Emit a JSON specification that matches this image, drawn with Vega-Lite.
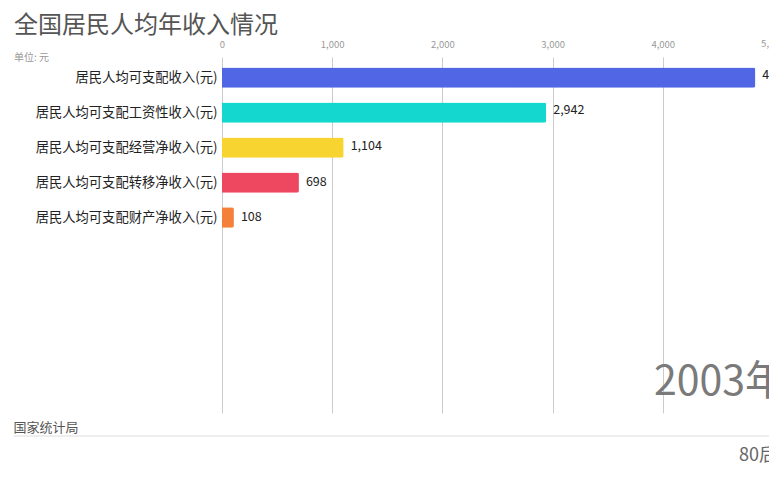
{
  "$schema": "https://vega.github.io/schema/vega-lite/v6.json",
  "autosize": {"type": "none"},
  "width": 547,
  "height": 356,
  "padding": {"left": 222, "top": 57, "right": 0, "bottom": 67},
  "background": "white",
  "title": {
    "text": "全国居民人均年收入情况",
    "subtitle": "单位: 元",
    "anchor": "start",
    "frame": "group",
    "dx": -208,
    "offset": -24,
    "font": "Noto Sans CJK SC",
    "fontSize": 24,
    "fontWeight": "normal",
    "color": "#555555",
    "subtitleFont": "Noto Sans CJK SC",
    "subtitleFontSize": 10,
    "subtitleColor": "#999999",
    "subtitlePadding": 15
  },
  "config": {
    "view": {"stroke": null},
    "font": "Noto Sans CJK SC"
  },
  "data": {
    "values": [
      {"item": "居民人均可支配收入(元)", "value": 4840},
      {"item": "居民人均可支配工资性收入(元)", "value": 2942},
      {"item": "居民人均可支配经营净收入(元)", "value": 1104},
      {"item": "居民人均可支配转移净收入(元)", "value": 698},
      {"item": "居民人均可支配财产净收入(元)", "value": 108}
    ]
  },
  "layer": [
    {
      "mark": {"type": "bar", "cornerRadiusEnd": 2},
      "encoding": {
        "y": {
          "field": "item",
          "type": "nominal",
          "scale": {
            "domain": ["居民人均可支配收入(元)", "居民人均可支配工资性收入(元)", "居民人均可支配经营净收入(元)", "居民人均可支配转移净收入(元)", "居民人均可支配财产净收入(元)", "_6", "_7", "_8", "_9", "_10"],
            "paddingInner": 0.42,
            "paddingOuter": 0.3
          },
          "axis": {
            "title": null,
            "domain": false,
            "ticks": false,
            "labelExpr": "indexof(datum.value, '_') == 0 ? '' : datum.value",
            "labelFontSize": 13.3,
            "labelColor": "#222222",
            "labelPadding": 5,
            "labelLimit": 300
          }
        },
        "x": {
          "field": "value",
          "type": "quantitative",
          "scale": {"domain": [0, 4964], "nice": false, "zero": true},
          "axis": {
            "orient": "top",
            "title": null,
            "values": [0, 1000, 2000, 3000, 4000],
            "labelExpr": "format(datum.value, ',')",
            "domain": false,
            "ticks": false,
            "labelFlush": false,
            "labelBound": false,
            "labelOverlap": false,
            "labelFontSize": 9.5,
            "labelColor": "#999999",
            "labelPadding": 8,
            "grid": true,
            "gridColor": "#cccccc",
            "gridWidth": 1
          }
        },
        "color": {
          "field": "item",
          "type": "nominal",
          "scale": {
            "domain": ["居民人均可支配收入(元)", "居民人均可支配工资性收入(元)", "居民人均可支配经营净收入(元)", "居民人均可支配转移净收入(元)", "居民人均可支配财产净收入(元)"],
            "range": ["#5166E4", "#14D8CF", "#F8D431", "#EE4760", "#F5803A"]
          },
          "legend": null
        }
      }
    },
    {
      "mark": {"type": "text", "align": "left", "baseline": "middle", "dx": 7, "fontSize": 12.5, "color": "#222222"},
      "encoding": {
        "y": {
          "field": "item",
          "type": "nominal",
          "scale": {
            "domain": ["居民人均可支配收入(元)", "居民人均可支配工资性收入(元)", "居民人均可支配经营净收入(元)", "居民人均可支配转移净收入(元)", "居民人均可支配财产净收入(元)", "_6", "_7", "_8", "_9", "_10"],
            "paddingInner": 0.42,
            "paddingOuter": 0.3
          },
          "axis": null
        },
        "x": {"field": "value", "type": "quantitative", "scale": {"domain": [0, 4964], "nice": false, "zero": true}},
        "text": {"field": "value", "type": "quantitative", "format": ","}
      }
    },
    {
      "data": {"values": [{"label": "5,000", "tick": 5000}]},
      "mark": {"type": "text", "align": "center", "baseline": "middle", "fontSize": 9.5, "color": "#999999"},
      "encoding": {
        "x": {"field": "tick", "type": "quantitative", "scale": {"domain": [0, 4964], "nice": false, "zero": true}},
        "y": {"datum": 369, "type": "quantitative", "scale": {"domain": [0, 356], "nice": false, "zero": true}, "axis": null},
        "text": {"field": "label"}
      }
    },
    {
      "data": {"values": [{"label": "2003年"}]},
      "mark": {"type": "text", "align": "left", "baseline": "alphabetic", "fontSize": 41, "color": "#7a7a7a"},
      "encoding": {
        "x": {"datum": 3920, "type": "quantitative", "scale": {"domain": [0, 4964], "nice": false, "zero": true}},
        "y": {"datum": 18, "type": "quantitative", "scale": {"domain": [0, 356], "nice": false, "zero": true}, "axis": null},
        "text": {"field": "label"}
      }
    },
    {
      "data": {"values": [{"label": "国家统计局"}]},
      "mark": {"type": "text", "align": "left", "baseline": "middle", "fontSize": 13, "color": "#555555"},
      "encoding": {
        "x": {"datum": -1891, "type": "quantitative", "scale": {"domain": [0, 4964], "nice": false, "zero": true}},
        "y": {"datum": -15, "type": "quantitative", "scale": {"domain": [0, 356], "nice": false, "zero": true}, "axis": null},
        "text": {"field": "label"}
      }
    },
    {
      "data": {"values": [{"label": "80后"}]},
      "mark": {"type": "text", "align": "left", "baseline": "middle", "fontSize": 18, "color": "#666666"},
      "encoding": {
        "x": {"datum": 4691, "type": "quantitative", "scale": {"domain": [0, 4964], "nice": false, "zero": true}},
        "y": {"datum": -43, "type": "quantitative", "scale": {"domain": [0, 356], "nice": false, "zero": true}, "axis": null},
        "text": {"field": "label"}
      }
    },
    {
      "data": {"values": [{"label": "footer"}]},
      "mark": {"type": "rule", "color": "#dddddd", "strokeWidth": 1},
      "encoding": {
        "x": {"datum": -1891, "type": "quantitative", "scale": {"domain": [0, 4964], "nice": false, "zero": true}},
        "x2": {"datum": 4964},
        "y": {"datum": -23, "type": "quantitative", "scale": {"domain": [0, 356], "nice": false, "zero": true}, "axis": null}
      }
    }
  ],
  "resolve": {"scale": {"y": "independent"}, "axis": {"y": "independent"}}
}
